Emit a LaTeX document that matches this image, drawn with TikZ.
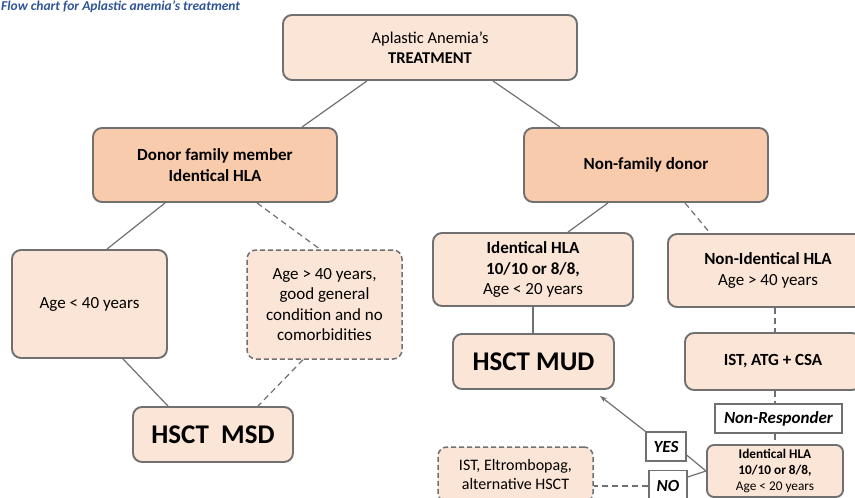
\documentclass[tikz,border=0pt]{standalone}
\usepackage{fontspec}
\setmainfont{Carlito}
\usetikzlibrary{arrows.meta}

\definecolor{boxlight}{RGB}{251,229,214}
\definecolor{boxdark}{RGB}{248,203,173}
\definecolor{boxline}{RGB}{112,112,112}
\definecolor{titleblue}{RGB}{47,85,151}

\begin{document}
\begin{tikzpicture}[x=1pt, y=-1pt,
    mybox/.style={draw=boxline, line width=1.9pt, rounded corners=9pt, fill=boxlight,
        align=center, inner sep=0pt, font=\fontsize{17}{20.5}\selectfont},
    mydark/.style={mybox, fill=boxdark, font=\fontsize{17}{20.5}\selectfont\bfseries},
    mydashbox/.style={mybox, line width=1.5pt, dash pattern=on 5pt off 3pt},
    mybig/.style={mybox, font=\fontsize{27}{30}\selectfont\bfseries},
    mytag/.style={draw=boxline, line width=1.2pt, fill=white, inner sep=0pt,
        font=\fontsize{17}{19}\selectfont\bfseries\itshape},
    myline/.style={draw=boxline, line width=1.2pt},
    mydashline/.style={myline, dash pattern=on 6pt off 4pt}
]
    \useasboundingbox (0,0) rectangle (855,498);
    \clip (0,0) rectangle (855,498);

    % Title
    \node[anchor=north west, inner sep=0pt, text=titleblue,
        font=\fontsize{13.5}{15}\selectfont\bfseries\itshape] (title) at (1,0.5)
        {Flow chart for Aplastic anemia’s treatment};

    % Boxes
    \node[mybox, minimum width=294, minimum height=65, font=\fontsize{16.5}{19.5}\selectfont] (top) at (430,47.5)
        {Aplastic Anemia’s\\\textbf{TREATMENT}};
    \node[mydark, minimum width=244, minimum height=74] (donor) at (215,165)
        {Donor family member\\Identical HLA};
    \node[mydark, minimum width=244, minimum height=74] (nonfam) at (646,165)
        {Non-family donor};

    \node[mybox, minimum width=155, minimum height=108] (young) at (89.5,304)
        {Age < 40 years};
    \node[mydashbox, minimum width=155, minimum height=109] (old) at (324.5,304.5)
        {Age > 40 years,\\good general\\condition and no\\comorbidities};
    \node[mybig, minimum width=160, minimum height=55] (msd) at (213,434.5)
        {HSCT~~MSD};

    \node[mybox, minimum width=200, minimum height=73] (idhla) at (533,269.5)
        {\textbf{Identical HLA}\\\textbf{10/10 or 8/8,}\\Age < 20 years};
    \node[mybox, minimum width=200, minimum height=73] (nonid) at (768,270.5)
        {\textbf{Non-Identical HLA}\\Age > 40 years};
    \node[mybig, minimum width=161, minimum height=55] (mud) at (533.5,361.5)
        {HSCT MUD};
    \node[mybox, minimum width=176, minimum height=57, font=\fontsize{17}{20.5}\selectfont\bfseries] (ist) at (773,361.5)
        {IST, ATG + CSA};

    \node[mytag, minimum width=127, minimum height=29] (nonresp) at (778.5,418.5)
        {Non-Responder};
    \node[mybox, minimum width=136, minimum height=52, rounded corners=7pt,
        font=\fontsize{13.3}{16}\selectfont] (idsmall) at (775,471)
        {\textbf{Identical HLA}\\\textbf{10/10 or 8/8,}\\Age < 20 years};
    \node[mytag, minimum width=40, minimum height=29] (yes) at (666,446.5) {YES};
    \node[mytag, minimum width=38, minimum height=31] (no) at (668,486) {NO};
    \node[mydashbox, minimum width=155, minimum height=55,
        font=\fontsize{16}{19}\selectfont] (alt) at (515.5,474.5)
        {IST, Eltrombopag,\\alternative HSCT};

    % Connectors
    \draw[myline] ([xshift=-63]top.south) -- ([xshift=87]donor.north);
    \draw[myline] ([xshift=63]top.south) -- ([xshift=-86]nonfam.north);

    \draw[myline] ([xshift=-50]donor.south) -- ([xshift=17.5]young.north);
    \draw[mydashline] ([xshift=42]donor.south) -- ([xshift=-4.5]old.north);
    \draw[myline] ([xshift=33.5]young.south) -- ([xshift=-45]msd.north);
    \draw[mydashline] ([xshift=-21.5]old.south) -- ([xshift=45]msd.north);

    \draw[myline] ([xshift=-38]nonfam.south) -- ([xshift=35]idhla.north);
    \draw[mydashline] ([xshift=39]nonfam.south) -- ([xshift=-58]nonid.north);
    \draw[myline] (idhla.south) -- (idhla.south |- mud.north);
    \draw[mydashline] ([xshift=7]nonid.south) -- ([xshift=2]ist.north);
    \draw[mydashline] ([xshift=2]ist.south) -- ([xshift=-3.5]nonresp.north);
    \draw[mydashline] ([xshift=-3.5]nonresp.south) -- (idsmall.north);

    \draw[myline] (idsmall.west) -- ([yshift=-8.5]yes.east);
    \draw[myline] (idsmall.west) -- ([yshift=9]no.east);
    \draw[myline, -{Stealth[length=7pt, width=5pt]}] (yes.north west) -- ([xshift=66.5, yshift=-6]mud.south);
    \draw[mydashline] (no.west) -- (no.west -| alt.east);
\end{tikzpicture}
\end{document}
